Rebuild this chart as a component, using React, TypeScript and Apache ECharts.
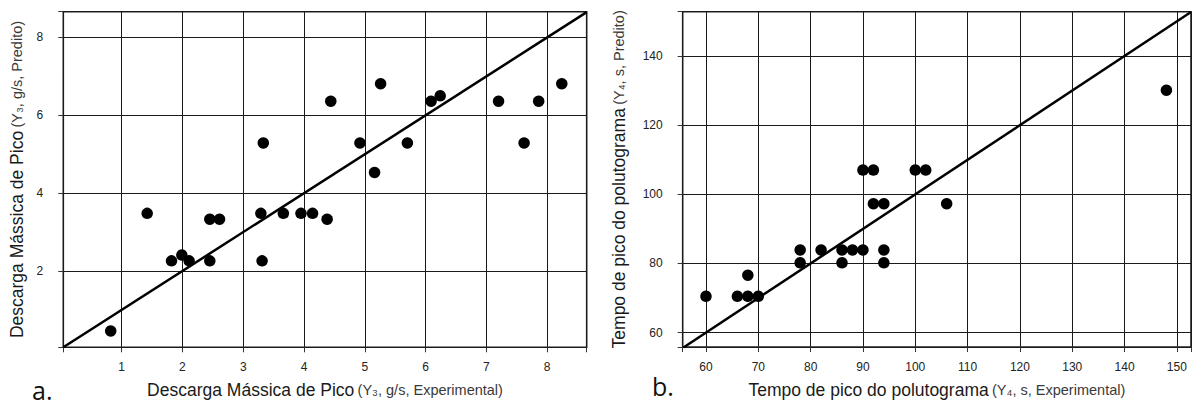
import React, { useEffect, useRef } from "react";
import * as echarts from "echarts";

// Chart a: Descarga Mássica de Pico (Y3, g/s)
const aExperimental = [0.82, 1.42, 1.82, 1.99, 2.11, 2.45, 2.61, 2.45, 3.29, 3.33, 3.31, 3.66, 3.95, 4.14, 4.38, 4.44, 4.92, 5.26, 5.16, 5.7, 6.09, 6.24, 7.2, 7.62, 7.86, 8.24];
const aPredicted = [0.46, 3.48, 2.26, 2.41, 2.26, 3.33, 3.33, 2.26, 3.48, 5.29, 2.26, 3.48, 3.48, 3.48, 3.33, 6.36, 5.29, 6.81, 4.53, 5.29, 6.36, 6.5, 6.36, 5.29, 6.36, 6.81];
const aTicksX = [1, 2, 3, 4, 5, 6, 7, 8];
const aTicksY = [2, 4, 6, 8];
const aRangeX = [0.04, 8.65];
const aRangeY = [0.04, 8.66];
const aDiagonal = [0.04, 8.65];

// Chart b: Tempo de pico do polutograma (Y4, s)
const bExperimental = [60, 66, 68, 68, 70, 78, 78, 82, 86, 86, 88, 90, 90, 92, 92, 94, 94, 94, 100, 102, 106, 148];
const bPredicted = [70.5, 70.5, 70.5, 76.6, 70.5, 83.9, 80.2, 83.9, 83.9, 80.2, 83.9, 83.9, 107, 107, 97.3, 97.3, 83.9, 80.2, 107, 107, 97.3, 130.1];
const bTicksX = [60, 70, 80, 90, 100, 110, 120, 130, 140, 150];
const bTicksY = [60, 80, 100, 120, 140];
const bRangeX = [55.55, 152.7];
const bRangeY = [55.85, 152.8];
const bDiagonal = [55.7, 152.7];

const FONT = '"Liberation Sans", Arial, Helvetica, sans-serif';

function axis(
  gridIndex: number,
  range: number[],
  step: number,
  ticks: number[],
  name: string,
  nameGap: number
) {
  return {
    type: "value",
    gridIndex,
    min: range[0],
    max: range[1],
    minInterval: step,
    maxInterval: step,
    splitNumber: Math.round((range[1] - range[0]) / step),
    name,
    nameLocation: "middle",
    nameGap,
    nameTextStyle: {
      fontFamily: FONT,
      rich: {
        m: { fontSize: 17.5, color: "#1a1a1a", fontFamily: FONT, lineHeight: 20 },
        s: { fontSize: 14.5, color: "#3a3a3a", fontFamily: FONT, lineHeight: 20 },
      },
    },
    axisLine: { show: false },
    axisTick: {
      show: true,
      inside: false,
      length: 5,
      lineStyle: { color: "#333", width: 1 },
    },
    axisLabel: {
      show: true,
      hideOverlap: false,
      fontSize: 12,
      color: "#222",
      fontFamily: FONT,
      margin: 14,
      formatter: (v: number) => {
        const hit = ticks.find((t) => Math.abs(t - v) < 1e-6);
        return hit === undefined ? "" : String(hit);
      },
    },
    splitLine: { show: true, lineStyle: { color: "#1a1a1a", width: 1 } },
  };
}

export default function App() {
  const ref = useRef<HTMLDivElement>(null);
  useEffect(() => {
    if (!ref.current) return;
    const chart = echarts.init(ref.current, null, { renderer: "svg" });
    const xA: any = axis(0, aRangeX, 1, aTicksX, "{m|Descarga Mássica de Pico} {s|(Y₃, g/s, Experimental)}", 33);
    const yA: any = axis(0, aRangeY, 2, aTicksY, "{m|Descarga Mássica de Pico} {s|(Y₃, g/s, Predito)}", 36);
    yA.axisLabel.margin = 20;
    const xB: any = axis(1, bRangeX, 10, bTicksX, "{m|Tempo de pico do polutograma} {s|(Y₄, s, Experimental)}", 33);
    const yB: any = axis(1, bRangeY, 20, bTicksY, "{m|Tempo de pico do polutograma} {s|(Y₄, s, Predito)}", 54);
    yB.axisLabel.margin = 20;

    chart.setOption({
      animation: false,
      backgroundColor: "#ffffff",
      textStyle: { fontFamily: FONT },
      grid: [
        { left: 63.3, top: 11.7, width: 523.4, height: 335.6, show: true, borderColor: "#222", borderWidth: 1.6, backgroundColor: "transparent" },
        { left: 682.7, top: 11.7, width: 508.3, height: 335.3, show: true, borderColor: "#222", borderWidth: 1.6, backgroundColor: "transparent" },
      ],
      xAxis: [xA, xB],
      yAxis: [yA, yB],
      series: [
        {
          type: "line",
          xAxisIndex: 0,
          yAxisIndex: 0,
          data: [[aDiagonal[0], aDiagonal[0]], [aDiagonal[1], aDiagonal[1]]],
          symbol: "none",
          silent: true,
          lineStyle: { color: "#000", width: 2.5 },
          z: 3,
        },
        {
          type: "scatter",
          xAxisIndex: 0,
          yAxisIndex: 0,
          data: aExperimental.map((x, i) => [x, aPredicted[i]]),
          symbol: "circle",
          symbolSize: 11.5,
          itemStyle: { color: "#000", opacity: 1 },
          z: 4,
        },
        {
          type: "line",
          xAxisIndex: 1,
          yAxisIndex: 1,
          data: [[bDiagonal[0], bDiagonal[0]], [bDiagonal[1], bDiagonal[1]]],
          symbol: "none",
          silent: true,
          lineStyle: { color: "#000", width: 2.5 },
          z: 3,
        },
        {
          type: "scatter",
          xAxisIndex: 1,
          yAxisIndex: 1,
          data: bExperimental.map((x, i) => [x, bPredicted[i]]),
          symbol: "circle",
          symbolSize: 11.5,
          itemStyle: { color: "#000", opacity: 1 },
          z: 4,
        },
      ],
      graphic: [
        { type: "text", left: 32, top: 377, style: { text: "a.", fontSize: 25, fontFamily: '"Open Sans", sans-serif', fill: "#111" } },
        { type: "text", left: 652, top: 373, style: { text: "b.", fontSize: 25, fontFamily: '"Open Sans", sans-serif', fill: "#111" } },
      ],
    });
    return () => chart.dispose();
  }, []);
  return (
    <div
      ref={ref}
      style={{ position: "fixed", left: 0, top: 0, width: 1198, height: 407, background: "#fff" }}
    />
  );
}
